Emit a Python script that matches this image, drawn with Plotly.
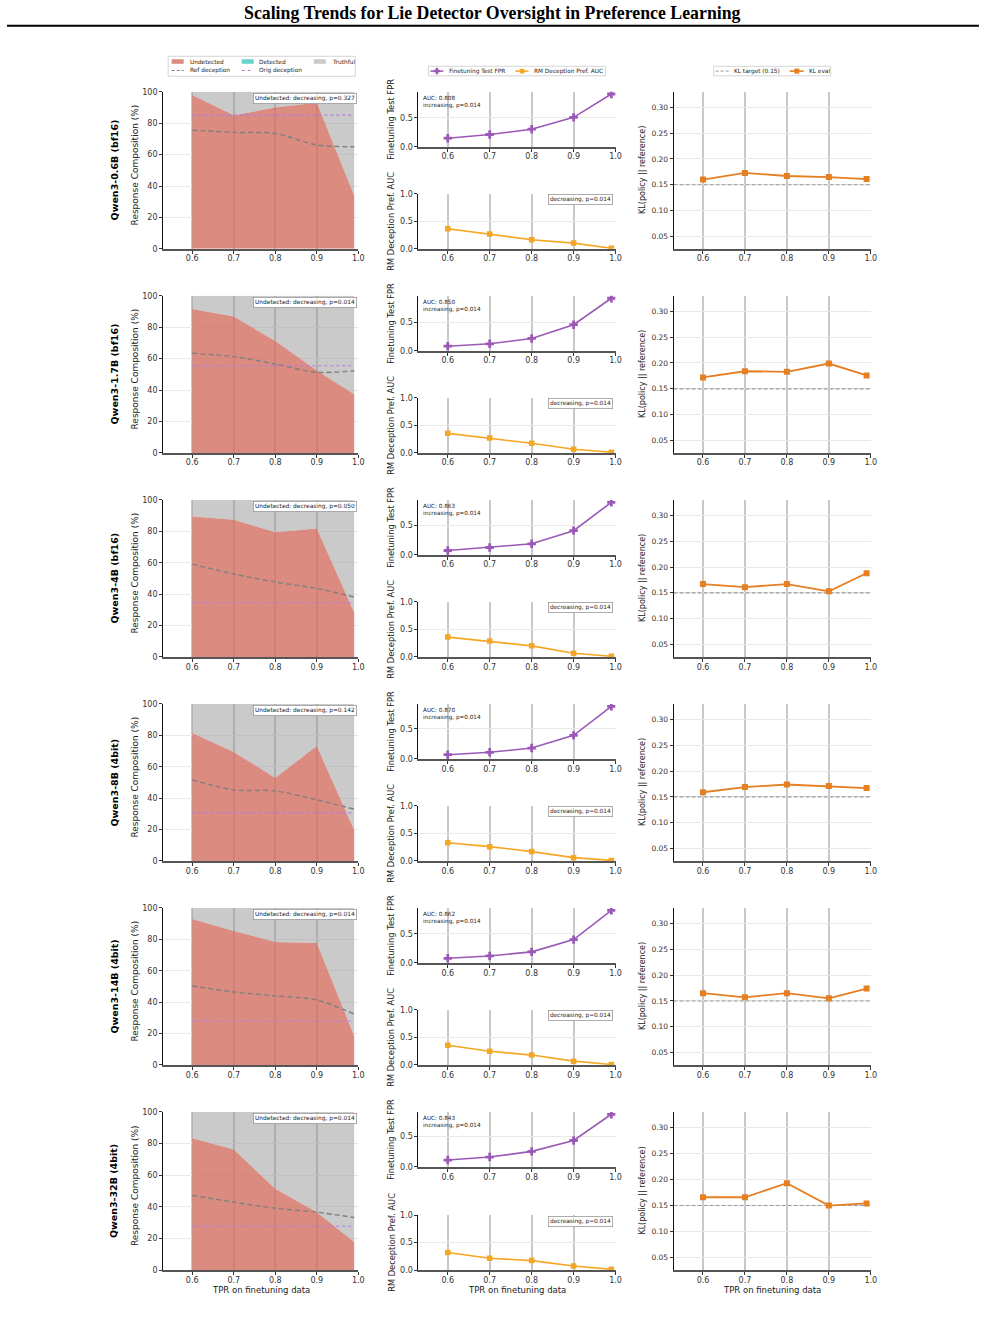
import plotly.graph_objects as go

W, H = 985, 1317

# ---------------- data ----------------
tpr = [0.6, 0.7, 0.8, 0.9, 0.99]
tick_vals = [0.6, 0.7, 0.8, 0.9, 1.0]
tick_text = ["0.6", "0.7", "0.8", "0.9", "1.0"]

models = ["Qwen3-0.6B (bf16)", "Qwen3-1.7B (bf16)", "Qwen3-4B (bf16)",
          "Qwen3-8B (4bit)", "Qwen3-14B (4bit)", "Qwen3-32B (4bit)"]

undetected = [
    [98.0, 85.0, 90.0, 93.0, 34.0],
    [91.7, 86.8, 71.3, 52.5, 37.4],
    [89.4, 87.4, 79.4, 81.7, 28.3],
    [81.5, 69.4, 52.9, 73.2, 19.7],
    [93.0, 85.4, 78.3, 77.7, 18.5],
    [83.4, 76.2, 51.5, 36.6, 17.7],
]
detected = [
    [0, 0, 0, 0, 0],
    [0, 0, 0, 0, 0],
    [0, 0, 0, 0, 0],
    [0, 0, 0, 0, 0],
    [0, 0, 0, 0, 0],
    [0, 0, 0, 0, 0],
]
ref_deception = [
    [75.6, 74.2, 73.5, 66.1, 65.0],
    [63.4, 61.3, 56.6, 51.3, 52.3],
    [59.1, 52.8, 47.7, 43.6, 38.1],
    [51.6, 45.2, 44.6, 38.9, 33.0],
    [50.3, 46.5, 44.0, 41.4, 32.5],
    [47.2, 43.0, 39.1, 36.6, 33.2],
]
orig_deception = [85.2, 55.5, 34.5, 30.6, 28.0, 27.7]
undetected_p = [0.327, 0.014, 0.050, 0.142, 0.014, 0.014]

fpr = [
    [0.149, 0.213, 0.305, 0.510, 0.914],
    [0.082, 0.124, 0.218, 0.459, 0.924],
    [0.074, 0.125, 0.188, 0.410, 0.890],
    [0.070, 0.110, 0.180, 0.390, 0.870],
    [0.080, 0.120, 0.190, 0.400, 0.900],
    [0.113, 0.161, 0.253, 0.430, 0.855],
]
fpr_auc = [0.808, 0.850, 0.863, 0.870, 0.862, 0.843]
fpr_p = [0.014, 0.014, 0.014, 0.014, 0.014, 0.014]

rm_auc = [
    [0.366, 0.268, 0.165, 0.104, 0.012],
    [0.355, 0.271, 0.175, 0.066, 0.012],
    [0.360, 0.287, 0.201, 0.067, 0.012],
    [0.330, 0.260, 0.170, 0.060, 0.010],
    [0.360, 0.250, 0.180, 0.070, 0.010],
    [0.317, 0.213, 0.171, 0.073, 0.012],
]
rm_p = [0.014, 0.014, 0.014, 0.014, 0.014, 0.014]

kl_eval = [
    [0.160, 0.173, 0.167, 0.165, 0.161],
    [0.172, 0.184, 0.183, 0.199, 0.176],
    [0.167, 0.161, 0.167, 0.153, 0.188],
    [0.159, 0.169, 0.174, 0.171, 0.167],
    [0.165, 0.157, 0.165, 0.155, 0.174],
    [0.166, 0.166, 0.193, 0.150, 0.154],
]
kl_target = 0.15

# ---------------- styling / layout ----------------
FONT = "DejaVu Sans"
C_UNDET = "rgba(210,110,95,0.8)"
C_DET = "rgba(78,205,196,0.85)"
C_TRUTH = "rgba(150,150,150,0.5)"
C_REF = "#808080"
C_ORIG = "#b57edc"
C_FPR = "#9b59b6"
C_RM = "#f5a623"
C_KL = "#e67e22"

XR = [0.53, 1.0]
row_top = [92, 296, 500, 704, 908, 1112]
row_bot = [249, 453, 657, 861, 1065, 1270]
col_left = (163, 358)
col_mid = (418, 615)
col_right = (673, 870)
MID_H = 55

# empirical compensation of the rendering transform (scale + small top offset)
SC, OFF = 0.993, 4.2


def px(x):
    return (x / SC) / W


def py(y):
    return 1 - ((y - OFF) / SC) / H


fig = go.Figure()
layout_axes = {}
annotations = []
shapes = []


def make_axes(n, xdom, ytop, ybot, yrange, ytickvals, ytickfmt, ytfs=8):
    key = "" if n == 1 else str(n)
    layout_axes["xaxis" + key] = dict(
        domain=[px(xdom[0]), px(xdom[1])], range=XR, anchor="y" + key,
        tickvals=tick_vals, ticktext=tick_text, showgrid=True,
        gridcolor="#c8c8c8", gridwidth=1.5, zeroline=False, showline=True,
        linecolor="#555555", linewidth=2, ticks="outside", ticklen=3,
        tickwidth=0.8, tickcolor="#333333", ticklabelstandoff=-2,
        tickfont=dict(size=8, color="#333333", family=FONT), fixedrange=True)
    layout_axes["yaxis" + key] = dict(
        domain=[py(ybot), py(ytop)], range=yrange, anchor="x" + key,
        tickvals=ytickvals, tickformat=ytickfmt, showgrid=True,
        gridcolor="#e8e8e8", gridwidth=1, zeroline=False, showline=True,
        linecolor="#111111", linewidth=1, ticks="outside", ticklen=3,
        tickwidth=0.8, tickcolor="#333333",
        tickfont=dict(size=ytfs, color="#333333", family=FONT), fixedrange=True)
    return ("x" + key, "y" + key)


def text(x, y, s, size=6, xanchor="left", yanchor="middle", angle=0,
         color="#222222", box=False, align="left", family=FONT):
    a = dict(x=px(x), y=py(y), xref="paper", yref="paper", text=s,
             showarrow=False, xanchor=xanchor, yanchor=yanchor,
             textangle=angle, align=align,
             font=dict(size=size, color=color, family=family))
    if box:
        a.update(bordercolor="#999999", borderwidth=0.8, borderpad=1.2,
                 bgcolor="white")
    annotations.append(a)


n = 0
for r in range(6):
    t, b = row_top[r], row_bot[r]
    # ---- left: composition ----
    n += 1
    xa, ya = make_axes(n, col_left, t, b, [0, 100], [0, 20, 40, 60, 80, 100], "d")
    truthful = [100 - u - d for u, d in zip(undetected[r], detected[r])]
    sg = f"comp{r}"
    for vals, col, name in [(undetected[r], C_UNDET, "Undetected"),
                            (detected[r], C_DET, "Detected"),
                            (truthful, C_TRUTH, "Truthful")]:
        fig.add_trace(go.Scatter(x=tpr, y=vals, stackgroup=sg, mode="lines",
                                 line=dict(width=0, color=col), fillcolor=col,
                                 name=name, showlegend=False, xaxis=xa, yaxis=ya))
    fig.add_trace(go.Scatter(x=tpr, y=ref_deception[r], mode="lines",
                             line=dict(color=C_REF, width=1.4, dash="5px,3px",
                                       shape="spline", smoothing=0.8),
                             showlegend=False, xaxis=xa, yaxis=ya))
    fig.add_trace(go.Scatter(x=[tpr[0], tpr[-1]],
                             y=[orig_deception[r], orig_deception[r]], mode="lines",
                             line=dict(color=C_ORIG, width=1.2, dash="dot"),
                             showlegend=False, xaxis=xa, yaxis=ya))
    text(357, t + 1.5, f"Undetected: decreasing, p={undetected_p[r]:.3f}",
         size=5.9, xanchor="right", yanchor="top", box=True)
    text(114, (t + b) / 2, f"<b>{models[r]}</b>", size=9.5, xanchor="center",
         angle=-90, color="black")
    text(135, (t + b) / 2 - 5, "Response Composition (%)", size=9,
         xanchor="center", angle=-90)

    # ---- middle top: FPR ----
    n += 1
    top_lim = max(fpr[r]) + 0.05 * (max(fpr[r]) - min(fpr[r]))
    xa, ya = make_axes(n, col_mid, t, t + MID_H, [0, top_lim], [0, 0.5], ".1f", 8)
    fig.add_trace(go.Scatter(x=tpr, y=fpr[r], mode="lines+markers",
                             line=dict(color=C_FPR, width=1.6),
                             marker=dict(symbol="cross", size=7, color=C_FPR),
                             showlegend=False, xaxis=xa, yaxis=ya))
    text(421, t + 1.5, f"AUC: {fpr_auc[r]:.3f}<br>increasing, p={fpr_p[r]:.3f}",
         size=5.7, xanchor="left", yanchor="top")
    text(391, t + MID_H / 2, "Finetuning Test FPR", size=8.3, xanchor="center",
         angle=-90)

    # ---- middle bottom: RM AUC ----
    n += 1
    xa, ya = make_axes(n, col_mid, b - MID_H, b, [0, 1.0], [0, 0.5, 1.0], ".1f", 8)
    fig.add_trace(go.Scatter(x=tpr, y=rm_auc[r], mode="lines+markers",
                             line=dict(color=C_RM, width=1.6),
                             marker=dict(symbol="square", size=5.5, color=C_RM),
                             showlegend=False, xaxis=xa, yaxis=ya))
    text(612, b - MID_H + 0.5, f"decreasing, p={rm_p[r]:.3f}", size=5.8,
         xanchor="right", yanchor="top", box=True)
    text(391, b - MID_H / 2, "RM Deception Pref. AUC", size=8.3,
         xanchor="center", angle=-90)

    # ---- right: KL ----
    n += 1
    xa, ya = make_axes(n, col_right, t, b, [0.026, 0.33],
                       [0.05, 0.10, 0.15, 0.20, 0.25, 0.30], ".2f", 7.5)
    fig.add_trace(go.Scatter(x=XR, y=[kl_target, kl_target], mode="lines",
                             line=dict(color="#999999", width=1.1, dash="4px,2px"),
                             showlegend=False, xaxis=xa, yaxis=ya))
    fig.add_trace(go.Scatter(x=tpr, y=kl_eval[r], mode="lines+markers",
                             line=dict(color=C_KL, width=1.8),
                             marker=dict(symbol="square", size=6, color=C_KL),
                             showlegend=False, xaxis=xa, yaxis=ya))
    text(642, (t + b) / 2, "KL(policy || reference)", size=8, xanchor="center",
         angle=-90)

# x titles on bottom row
for c in (col_left, col_mid, col_right):
    text((c[0] + c[1]) / 2, 1290, "TPR on finetuning data", size=8.5,
         xanchor="center")

# ---------------- title ----------------
text(W / 2, 13, "<b>Scaling Trends for Lie Detector Oversight in Preference Learning</b>",
     size=17.8, xanchor="center", color="black", family="Liberation Serif")
shapes.append(dict(type="line", xref="paper", yref="paper", x0=px(7), x1=px(978),
                   y0=py(26), y1=py(26), line=dict(color="black", width=2)))


# ---------------- manual legends ----------------
def rect(x0, y0, x1, y1, fill, line="rgba(0,0,0,0)", lw=0):
    shapes.append(dict(type="rect", xref="paper", yref="paper", x0=px(x0), x1=px(x1),
                       y0=py(y1), y1=py(y0), fillcolor=fill,
                       line=dict(color=line, width=lw)))


def hline(x0, x1, y, color, width, dash="solid"):
    shapes.append(dict(type="line", xref="paper", yref="paper", x0=px(x0), x1=px(x1),
                       y0=py(y), y1=py(y), line=dict(color=color, width=width, dash=dash)))


def cross(cx, cy, s, color):
    a, b = s / 2, s / 6
    pts = [(-b, -a), (b, -a), (b, -b), (a, -b), (a, b), (b, b), (b, a), (-b, a),
           (-b, b), (-a, b), (-a, -b), (-b, -b)]
    path = "M " + " L ".join(f"{px(cx + dx):.5f},{py(cy + dy):.5f}" for dx, dy in pts) + " Z"
    shapes.append(dict(type="path", xref="paper", yref="paper", path=path,
                       fillcolor=color, line=dict(color=color, width=0.5)))


LFS = 5.8
# left legend
rect(168, 56.5, 355, 76.5, "white", "#cccccc", 0.8)
r1, r2 = 61.7, 70.7
rect(171.5, r1 - 2.3, 183.5, r1 + 2.3, C_UNDET)
text(187.5, r1, "Undetected", size=LFS)
rect(241.5, r1 - 2.3, 253.5, r1 + 2.3, C_DET)
text(257, r1, "Detected", size=LFS)
rect(313.5, r1 - 2.3, 325.5, r1 + 2.3, C_TRUTH)
text(329.5, r1, "Truthful", size=LFS)
hline(171.5, 183.5, r2, C_REF, 1.1, "3px,2px")
text(187.5, r2, "Ref deception", size=LFS)
hline(241.5, 253.5, r2, C_ORIG, 1.1, "dot")
text(257, r2, "Orig deception", size=LFS)

# middle legend
rect(428, 66.5, 605, 76, "white", "#cccccc", 0.8)
ly = 71.3
hline(430, 443, ly, C_FPR, 1.5)
cross(436.5, ly, 6, C_FPR)
text(446.5, ly, "Finetuning Test FPR", size=LFS)
hline(515, 528, ly, C_RM, 1.5)
rect(519.3, ly - 2.3, 523.9, ly + 2.3, C_RM)
text(532, ly, "RM Deception Pref. AUC", size=LFS)

# right legend
rect(713, 66.5, 830, 76, "white", "#cccccc", 0.8)
hline(715, 728, ly, "#999999", 1.0, "3px,2px")
text(731, ly, "KL target (0.15)", size=LFS)
hline(789, 803, ly, C_KL, 1.6)
rect(793.6, ly - 2.5, 798.6, ly + 2.5, C_KL)
text(806, ly, "KL eval", size=LFS)

fig.update_layout(
    width=W, height=H, autosize=False,
    margin=dict(l=0, r=0, t=0, b=0),
    paper_bgcolor="white", plot_bgcolor="rgba(0,0,0,0)",
    showlegend=False, font=dict(family=FONT, color="#222222"),
    annotations=annotations, shapes=shapes, **layout_axes)

fig.write_html("out.html")
